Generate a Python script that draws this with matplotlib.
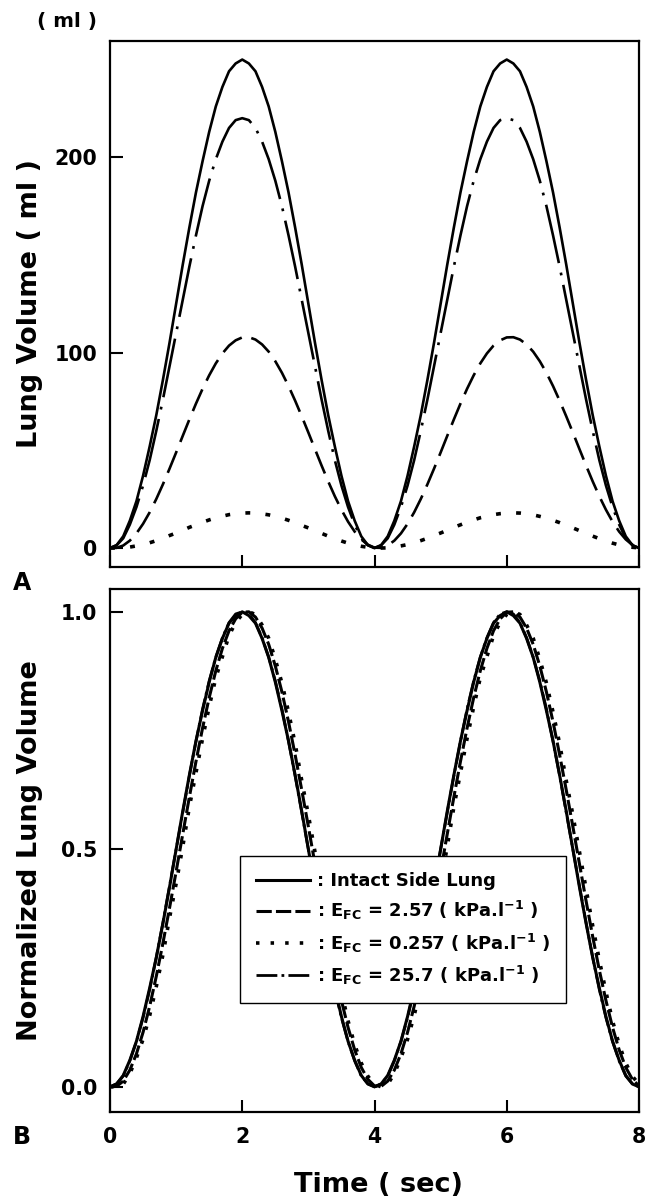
import matplotlib
matplotlib.use("Agg")
import matplotlib.pyplot as plt
import numpy as np

plt.rcParams['font.family'] = ['DejaVu Sans']
plt.rcParams['font.weight'] = 'bold'
plt.rcParams['mathtext.fontset'] = 'dejavusans'
plt.rcParams['mathtext.default'] = 'bf'
plt.rcParams['lines.scale_dashes'] = False

# ---- data ----
time_s = [0.0, 0.1, 0.2, 0.3, 0.4, 0.5, 0.6, 0.7, 0.8, 0.9, 1.0, 1.1, 1.2, 1.3, 1.4, 1.5, 1.6, 1.7, 1.8, 1.9,
          2.0, 2.1, 2.2, 2.3, 2.4, 2.5, 2.6, 2.7, 2.8, 2.9, 3.0, 3.1, 3.2, 3.3, 3.4, 3.5, 3.6, 3.7, 3.8, 3.9,
          4.0, 4.1, 4.2, 4.3, 4.4, 4.5, 4.6, 4.7, 4.8, 4.9, 5.0, 5.1, 5.2, 5.3, 5.4, 5.5, 5.6, 5.7, 5.8, 5.9,
          6.0, 6.1, 6.2, 6.3, 6.4, 6.5, 6.6, 6.7, 6.8, 6.9, 7.0, 7.1, 7.2, 7.3, 7.4, 7.5, 7.6, 7.7, 7.8, 7.9, 8.0]

# Lung volume (ml), intact side lung
vol_intact = [0, 1.5, 6, 14, 24, 37, 52, 68, 86, 105, 125, 145, 164, 182, 198, 213, 226, 236, 244, 248,
              250, 248, 244, 236, 226, 213, 198, 182, 164, 145, 125, 105, 86, 68, 52, 37, 24, 14, 6, 1.5,
              0, 1.5, 6, 14, 24, 37, 52, 68, 86, 105, 125, 145, 164, 182, 198, 213, 226, 236, 244, 248,
              250, 248, 244, 236, 226, 213, 198, 182, 164, 145, 125, 105, 86, 68, 52, 37, 24, 14, 6, 1.5, 0]
# EFC = 25.7 kPa/l
vol_efc_25_7 = [0, 1.4, 5, 12, 21, 32, 45, 60, 76, 93, 110, 127, 144, 160, 175, 188, 199, 208, 215, 219,
                220, 219, 215, 208, 199, 188, 175, 160, 144, 127, 110, 93, 76, 60, 45, 32, 21, 12, 5, 1.4,
                0, 1.4, 5, 12, 21, 32, 45, 60, 76, 93, 110, 127, 144, 160, 175, 188, 199, 208, 215, 219,
                220, 219, 215, 208, 199, 188, 175, 160, 144, 127, 110, 93, 76, 60, 45, 32, 21, 12, 5, 1.4, 0]
# EFC = 2.57 kPa/l
vol_efc_2_57 = [0, 0.1, 1.3, 3.8, 7.5, 12.4, 18.3, 25.1, 32.6, 40.6, 48.9, 57.4, 65.8, 73.9, 81.5, 88.4,
                94.5, 99.6, 103.6, 106.3, 107.8, 107.9, 106.7, 104.2, 100.5, 95.6, 89.7, 82.9, 75.4, 67.4,
                59.1, 50.6, 42.2, 34.1, 26.5, 19.6, 13.5, 8.4, 4.4, 1.7, 0.2,
                0.1, 1.3, 3.8, 7.5, 12.4, 18.3, 25.1, 32.6, 40.6, 48.9, 57.4, 65.8, 73.9, 81.5, 88.4,
                94.5, 99.6, 103.6, 106.3, 107.8, 107.9, 106.7, 104.2, 100.5, 95.6, 89.7, 82.9, 75.4, 67.4,
                59.1, 50.6, 42.2, 34.1, 26.5, 19.6, 13.5, 8.4, 4.4, 1.7, 0.2]
# EFC = 0.257 kPa/l
vol_efc_0_257 = [0, 0.0, 0.1, 0.5, 1.1, 1.8, 2.7, 3.8, 5.0, 6.4, 7.7, 9.1, 10.6, 11.9, 13.2, 14.4, 15.5,
                 16.3, 17.1, 17.6, 17.9, 18.0, 17.9, 17.5, 17.0, 16.2, 15.3, 14.2, 13.0, 11.6, 10.3, 8.9,
                 7.5, 6.1, 4.8, 3.6, 2.5, 1.6, 0.9, 0.4, 0.1,
                 0.0, 0.1, 0.5, 1.1, 1.8, 2.7, 3.8, 5.0, 6.4, 7.7, 9.1, 10.6, 11.9, 13.2, 14.4, 15.5,
                 16.3, 17.1, 17.6, 17.9, 18.0, 17.9, 17.5, 17.0, 16.2, 15.3, 14.2, 13.0, 11.6, 10.3, 8.9,
                 7.5, 6.1, 4.8, 3.6, 2.5, 1.6, 0.9, 0.4, 0.1]

x_ticks = [0, 2, 4, 6, 8]
y_ticks_top = [0, 100, 200]
y_ticks_bot = [0.0, 0.5, 1.0]
legend_labels = [': Intact Side Lung',
                 r': E$_{\mathbf{FC}}$ = 2.57 ( kPa.l$^{\mathbf{-1}}$ )',
                 r': E$_{\mathbf{FC}}$ = 0.257 ( kPa.l$^{\mathbf{-1}}$ )',
                 r': E$_{\mathbf{FC}}$ = 25.7 ( kPa.l$^{\mathbf{-1}}$ )']

t = np.array(time_s)
W, H = 646, 1200
fig = plt.figure(figsize=(W / 100, H / 100), dpi=100)

L, R = 110, 639
ax1 = fig.add_axes([L / W, 1 - 567 / H, (R - L) / W, (567 - 41) / H])
ax2 = fig.add_axes([L / W, 1 - 1112 / H, (R - L) / W, (1112 - 589) / H])

# ---- top panel ----
ax1.plot(t, vol_intact, color='black', lw=1.9)
ax1.plot(t, vol_efc_25_7, color='black', lw=1.9, dashes=(43, 7, 2, 7))
ax1.plot(t, vol_efc_2_57, color='black', lw=1.9, dashes=(17, 7))
ax1.plot(t, vol_efc_0_257, color='black', lw=2.6, dashes=(3.5, 11))
ax1.set_xlim(0, 8)
ax1.set_ylim(-9.7, 259.5)
ax1.set_yticks(y_ticks_top)
ax1.set_xticks(x_ticks)
ax1.set_xticklabels([])
ax1.set_ylabel('Lung Volume ( ml )', fontsize=19.5, fontweight='bold')
ax1.yaxis.set_label_coords(-(110 - 30) / 529, 0.5)

# ---- bottom panel (each curve normalized by its own peak) ----
series = [vol_intact, vol_efc_2_57, vol_efc_0_257, vol_efc_25_7]
styles = [dict(lw=2.2), dict(lw=2.2, dashes=(11, 3)), dict(lw=2.6, dashes=(2.5, 8)),
          dict(lw=2.0, dashes=(15, 3, 2, 3))]
handles = []
for s, st in zip(series, styles):
    v = np.array(s, dtype=float)
    ln, = ax2.plot(t, v / v.max(), color='black', **st)
    handles.append(ln)
ax2.set_xlim(0, 8)
ax2.set_ylim(-0.053, 1.048)
ax2.set_xticks(x_ticks)
ax2.set_yticks(y_ticks_bot)
ax2.set_yticklabels(['%.1f' % v for v in y_ticks_bot])
ax2.set_ylabel('Normalized Lung Volume', fontsize=19.5, fontweight='bold')
ax2.yaxis.set_label_coords(-(110 - 30) / 529, 0.5)
ax2.set_xlabel('Time ( sec)', fontsize=19.5, fontweight='bold')
ax2.xaxis.set_label_coords((378 - 110) / 529, -(1185 - 1112) / 523)
ax2.xaxis.label.set_va('center')
ax1.yaxis.label.set_va('center')
ax2.yaxis.label.set_va('center')

leg = ax2.legend(handles, legend_labels, loc='upper left', bbox_to_anchor=(0.2457, (1112 - 856) / 523),
                 fontsize=13, frameon=True, fancybox=False, edgecolor='black', framealpha=1,
                 handlelength=3.0, handletextpad=0.35, labelspacing=0.5, borderpad=0.9,
                 borderaxespad=0)
leg.get_frame().set_linewidth(1.0)
for txt in leg.get_texts():
    txt.set_fontweight('bold')

for ax in (ax1, ax2):
    for sp in ax.spines.values():
        sp.set_linewidth(1.6)
    ax.tick_params(direction='in', length=9, width=1.5, labelsize=14.8)
    ax.tick_params(axis='y', pad=9)
    ax.tick_params(axis='x', pad=11)
    for lab in ax.get_xticklabels() + ax.get_yticklabels():
        lab.set_fontweight('bold')

fig.text(67 / W, 1 - 22 / H, '( ml )', ha='center', va='center', fontsize=14.4, fontweight='bold')
fig.text(22 / W, 1 - 583 / H, 'A', ha='center', va='center', fontsize=17, fontweight='bold')
fig.text(22 / W, 1 - 1137 / H, 'B', ha='center', va='center', fontsize=17, fontweight='bold')

fig.savefig('out.png', dpi=100)
